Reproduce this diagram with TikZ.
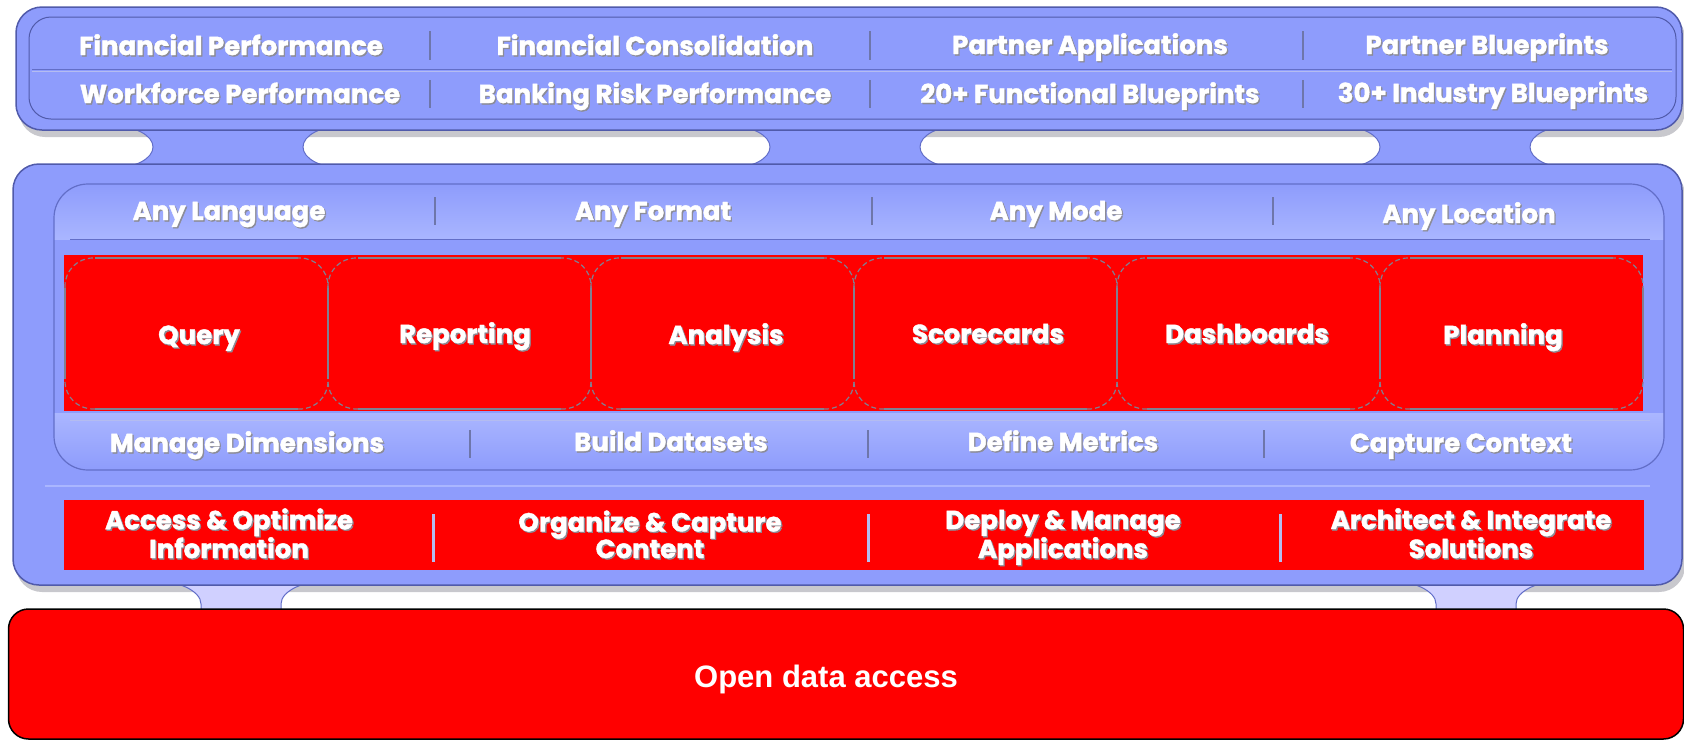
\documentclass[tikz,border=0pt]{standalone}
\usepackage{fontspec}
\newfontfamily\panelfont{Poppins}[BoldFeatures={FakeBold=1.6}]
\newfontfamily\accessfont{Liberation Sans}

\definecolor{panelblue}{RGB}{142,156,252}
\definecolor{panellight}{RGB}{170,182,255}
\definecolor{paneldark}{RGB}{98,110,200}
\definecolor{paneledge}{RGB}{80,90,170}
\definecolor{necklight}{RGB}{208,208,255}
\definecolor{dividergray}{RGB}{110,118,170}
\definecolor{dividerlight}{RGB}{180,188,240}
\definecolor{shadegray}{RGB}{140,140,150}
\definecolor{boxgray}{RGB}{128,128,145}
\definecolor{dropgray}{RGB}{200,200,205}

% white text with a grey drop shadow
\newcommand\shadedtext[3]{%
  \node[textshade] at (#2) {#3};
  \node[paneltext] (#1) at (#2) {#3};}

\begin{document}
\begin{tikzpicture}
[x=1pt,y=-1pt,
panel/.style = {fill=panelblue,draw=paneledge,line width=1.5pt,rounded corners=26pt},
dropshade/.style = {fill=dropgray,rounded corners=26pt},
neck/.style = {fill=panelblue,draw=paneldark,line width=1pt},
lowneck/.style = {fill=necklight,draw=paneldark,line width=1pt},
toolbox/.style = {draw=boxgray,line width=1.2pt,rounded corners=28pt,dash pattern=on 5pt off 3pt},
toolside/.style = {draw=boxgray,line width=1.2pt},
divider/.style = {draw=dividergray,line width=2.2pt},
bardivider/.style = {draw=dividerlight,line width=3pt},
paneltext/.style = {text=white,inner sep=0pt,align=center,text height=18pt,text depth=0pt,
  font={\panelfont\bfseries\fontsize{26}{23}\selectfont}},
textshade/.style = {paneltext,text=shadegray,xshift=1.3pt,yshift=-1.3pt},
bartext/.style = {font={\panelfont\bfseries\fontsize{24.5}{25}\selectfont\lineskiplimit=-20pt}},
databox/.style = {fill=red,draw=black,line width=1.5pt,rounded corners=20pt,
  minimum width=1675pt,minimum height=130pt},
datatext/.style = {text=white,font=\accessfont\bfseries\fontsize{31}{31}\selectfont}]
\useasboundingbox (0,0) rectangle (1684,740);

% drop shadows of the panels
\fill[dropshade] (19,12) rectangle (1685,137);
\fill[dropshade] (16,169) rectangle (1685,592);

% necks between the two panels
\foreach \c in {228,845,1455}
  \path[neck] ({\c-115},126) arc[start angle=90,end angle=0,x radius=40pt,y radius=21pt]
    arc[start angle=0,end angle=-90,x radius=40pt,y radius=21pt] -- ({\c+115},168)
    arc[start angle=-90,end angle=-180,x radius=40pt,y radius=21pt]
    arc[start angle=180,end angle=90,x radius=40pt,y radius=21pt] -- cycle;

% feet down to the data box
\foreach \c in {241,1476}
  \path[lowneck] ({\c-92},580) arc[start angle=90,end angle=0,x radius=52pt,y radius=24pt]
    -- ({\c-40},620) -- ({\c+40},620) -- ({\c+40},604)
    arc[start angle=180,end angle=90,x radius=52pt,y radius=24pt] -- cycle;

% top panel
\draw[panel] (16,7) rectangle (1682,130);
\draw[paneledge,line width=1pt,rounded corners=22pt] (29,17) rectangle (1676,119);
\draw[paneldark,line width=1pt] (32,69) -- (1672,69);
\draw[dividerlight,line width=1pt] (32,71) -- (1672,71);
\foreach \x in {430,870,1303} {
  \draw[divider] (\x,31) -- (\x,60);
  \draw[divider] (\x,80) -- (\x,108);
}
\shadedtext{finperf}{231,46}{Financial Performance}
\shadedtext{fincons}{655,46}{Financial Consolidation}
\shadedtext{partapps}{1090,45}{Partner Applications}
\shadedtext{partblue}{1487,45}{Partner Blueprints}
\shadedtext{workperf}{240,94}{Workforce Performance}
\shadedtext{bankrisk}{655,94}{Banking Risk Performance}
\shadedtext{funcblue}{1090,94}{20+ Functional Blueprints}
\shadedtext{indblue}{1493,93}{30+ Industry Blueprints}

% middle panel
\draw[panel] (13,164) rectangle (1682,585);
\draw[panellight,line width=1.5pt] (45,486) -- (1650,486);
\begin{scope}
\clip[rounded corners=34pt] (54,184) rectangle (1664,470);
\fill[top color=panelblue,bottom color=panellight] (54,184) rectangle (1664,240);
\fill[panelblue] (54,240) rectangle (1664,413);
\fill[top color=panellight,bottom color=panelblue] (54,413) rectangle (1664,470);
\end{scope}
\draw[paneldark,line width=1.2pt,rounded corners=34pt] (54,184) rectangle (1664,470);
\draw[paneldark,line width=1pt] (70,239) -- (1650,239);
\draw[dividerlight,line width=1pt] (70,420) -- (1650,420);
\foreach \x in {435,872,1273}
  \draw[divider] (\x,197) -- (\x,225);
\foreach \x in {470,868,1264}
  \draw[divider] (\x,430) -- (\x,458);
\shadedtext{anylang}{229,211}{Any Language}
\shadedtext{anyformat}{653,211}{Any Format}
\shadedtext{anymode}{1056,211}{Any Mode}
\shadedtext{anyloc}{1469,214}{Any Location}

% red band of tools
\fill[red] (64,255) rectangle (1643,411);
\foreach \i in {0,...,5} {
  \draw[toolbox] ({65+\i*263},258) rectangle ({65+(\i+1)*263},409);
  \draw[toolside] ({95+\i*263},258) -- ({35+(\i+1)*263},258);
  \draw[toolside] ({95+\i*263},409) -- ({35+(\i+1)*263},409);
  \draw[toolside] ({65+\i*263},288) -- ({65+\i*263},379);
}
\draw[toolside] (1643,288) -- (1643,379);
\shadedtext{query}{199,335}{Query}
\shadedtext{reporting}{465,334}{Reporting}
\shadedtext{analysis}{726,335}{Analysis}
\shadedtext{scorecards}{988,334}{Scorecards}
\shadedtext{dashboards}{1247,334}{Dashboards}
\shadedtext{planning}{1503,335}{Planning}

\shadedtext{managedim}{247,443}{Manage Dimensions}
\shadedtext{buildsets}{671,442}{Build Datasets}
\shadedtext{defmetrics}{1063,442}{Define Metrics}
\shadedtext{capcontext}{1461,443}{Capture Context}

% red bar of services
\fill[red] (64,500) rectangle (1644,570);
\foreach \x in {433,868,1280}
  \draw[bardivider] (\x,514) -- (\x,562);
\begin{scope}[every node/.append style={bartext}]
\shadedtext{accessinfo}{229,549}{Access \& Optimize\\Information}
\shadedtext{organize}{650,549}{Organize \& Capture\\Content}
\shadedtext{deploy}{1063,549}{Deploy \& Manage\\Applications}
\shadedtext{architect}{1471,549}{Architect \& Integrate\\Solutions}
\end{scope}

% open data access
\node[databox] (access) at (846,674) {};
\node[datatext] (accesstext) at (826,679) {Open data access};
\end{tikzpicture}
\end{document}
